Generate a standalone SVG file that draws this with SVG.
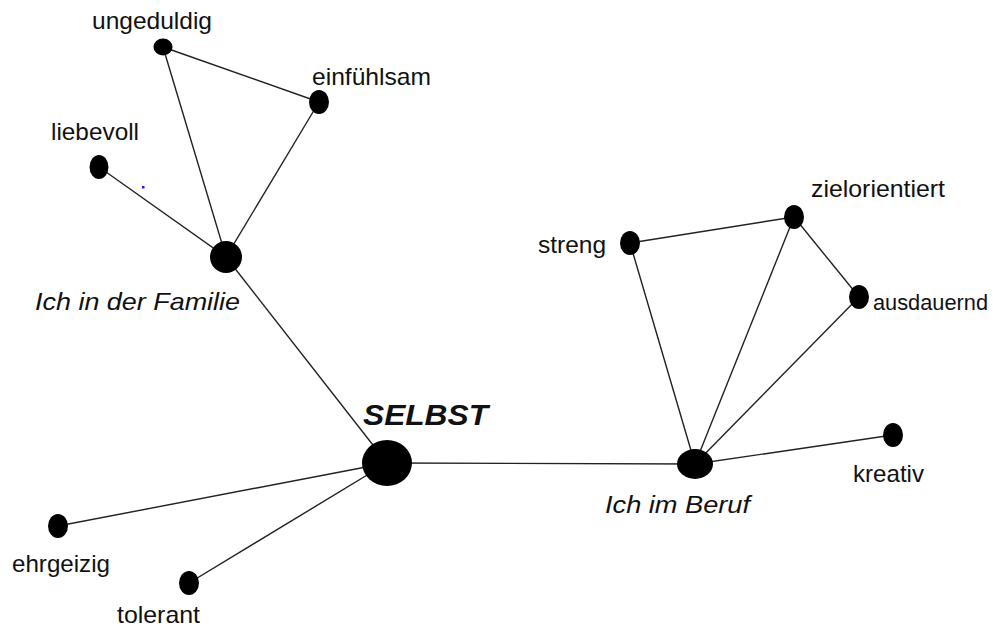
<svg xmlns="http://www.w3.org/2000/svg" width="997" height="628" viewBox="0 0 997 628">
<style>
.edge{stroke:#222;stroke-width:1.4;fill:none}
.dot{fill:#000}
.lbl{font-family:"Liberation Sans",Arial,sans-serif;font-size:24px;fill:#111}
.it{font-style:italic}
.hub{font-weight:bold;font-style:italic;font-size:29px}
</style>
<rect width="997" height="628" fill="#fff"/>
<g id="connectors">
<line class="edge" x1="163" y1="47" x2="319" y2="102"/>
<line class="edge" x1="163" y1="47" x2="226" y2="257"/>
<line class="edge" x1="319" y1="102" x2="226" y2="257"/>
<line class="edge" x1="99" y1="167" x2="226" y2="257"/>
<line class="edge" x1="226" y1="257" x2="387" y2="463"/>
<line class="edge" x1="387" y1="463" x2="695" y2="464"/>
<line class="edge" x1="387" y1="463" x2="58" y2="526"/>
<line class="edge" x1="387" y1="463" x2="189" y2="583"/>
<line class="edge" x1="630" y1="243" x2="794" y2="217"/>
<line class="edge" x1="794" y1="217" x2="859" y2="297"/>
<line class="edge" x1="630" y1="243" x2="695" y2="464"/>
<line class="edge" x1="794" y1="217" x2="695" y2="464"/>
<line class="edge" x1="859" y1="297" x2="695" y2="464"/>
<line class="edge" x1="893" y1="435" x2="695" y2="464"/>
</g>
<g id="node-ungeduldig"><ellipse class="dot" cx="163" cy="47" rx="9.5" ry="8.5"/><text class="lbl" x="92" y="29" textLength="120" lengthAdjust="spacingAndGlyphs">ungeduldig</text></g>
<g id="node-einfuehlsam"><ellipse class="dot" cx="319" cy="102" rx="10" ry="12"/><text class="lbl" x="312" y="85" textLength="119" lengthAdjust="spacingAndGlyphs">einfühlsam</text></g>
<g id="node-liebevoll"><ellipse class="dot" cx="99" cy="167" rx="9.5" ry="12"/><text class="lbl" x="51" y="140" textLength="88" lengthAdjust="spacingAndGlyphs">liebevoll</text></g>
<g id="node-familie"><circle class="dot" cx="226" cy="257" r="16"/><text class="lbl it" x="35" y="310" textLength="205" lengthAdjust="spacingAndGlyphs">Ich in der Familie</text></g>
<g id="node-selbst"><ellipse class="dot" cx="387" cy="463" rx="25" ry="23"/><text class="lbl hub" x="363" y="425" textLength="125" lengthAdjust="spacingAndGlyphs">SELBST</text></g>
<g id="node-ehrgeizig"><ellipse class="dot" cx="58" cy="526" rx="10" ry="12"/><text class="lbl" x="12" y="572" textLength="98" lengthAdjust="spacingAndGlyphs">ehrgeizig</text></g>
<g id="node-tolerant"><ellipse class="dot" cx="189" cy="583" rx="10" ry="12"/><text class="lbl" x="117" y="623" textLength="83" lengthAdjust="spacingAndGlyphs">tolerant</text></g>
<g id="node-beruf"><ellipse class="dot" cx="695" cy="464" rx="18" ry="15"/><text class="lbl it" x="605" y="513" textLength="145" lengthAdjust="spacingAndGlyphs">Ich im Beruf</text></g>
<g id="node-streng"><ellipse class="dot" cx="630" cy="243" rx="10" ry="12"/><text class="lbl" x="538" y="253" textLength="68" lengthAdjust="spacingAndGlyphs">streng</text></g>
<g id="node-zielorientiert"><ellipse class="dot" cx="794" cy="217" rx="10" ry="12"/><text class="lbl" x="811" y="197" textLength="134" lengthAdjust="spacingAndGlyphs">zielorientiert</text></g>
<g id="node-ausdauernd"><ellipse class="dot" cx="859" cy="297" rx="10" ry="12"/><text class="lbl" x="873" y="310" font-size="22.5" style="font-size:22.5px" textLength="115" lengthAdjust="spacingAndGlyphs">ausdauernd</text></g>
<g id="node-kreativ"><ellipse class="dot" cx="893" cy="435" rx="10" ry="12"/><text class="lbl" x="853" y="482" textLength="71" lengthAdjust="spacingAndGlyphs">kreativ</text></g>
<rect x="142" y="186" width="2.5" height="2.5" fill="#1a1aff"/>
</svg>
